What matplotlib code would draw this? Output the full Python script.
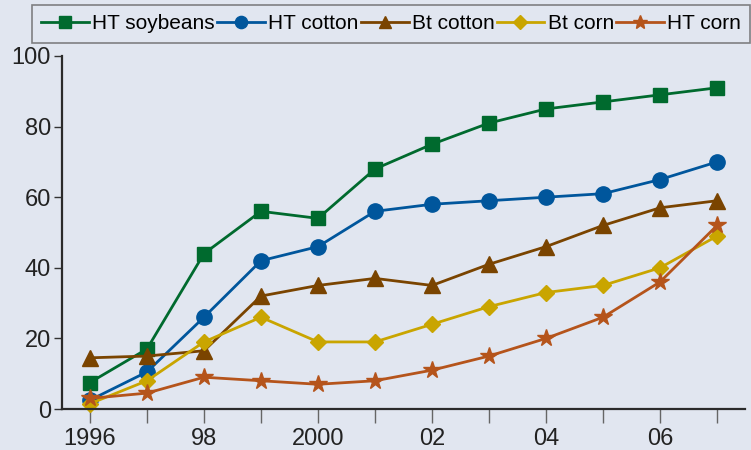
import matplotlib.pyplot as plt

# Adoption of genetically engineered crops, percent of acres
years = list(range(1996, 2008))
ht_soybeans = [7.5, 17, 44, 56, 54, 68, 75, 81, 85, 87, 89, 91]
ht_cotton = [2.5, 10.5, 26, 42, 46, 56, 58, 59, 60, 61, 65, 70]
bt_cotton = [14.5, 15, 16.5, 32, 35, 37, 35, 41, 46, 52, 57, 59]
bt_corn = [1.5, 8, 19, 26, 19, 19, 24, 29, 33, 35, 40, 49]
ht_corn = [3, 4.5, 9, 8, 7, 8, 11, 15, 20, 26, 36, 52]

tick_labels = ["1996", "", "98", "", "2000", "", "02", "", "04", "", "06", ""]
y_ticks = [0, 20, 40, 60, 80, 100]

plt.rcParams['font.family'] = ['Liberation Sans', 'DejaVu Sans']

bg = '#e1e6f0'
fig = plt.figure(figsize=(7.51, 4.5), dpi=100, facecolor=bg)
ax = fig.add_axes([62/751, 41/450, (745-62)/751, (409-56)/450])
ax.set_facecolor(bg)

series = [
    ("HT soybeans", ht_soybeans, '#006a2e', 's', 10),
    ("HT cotton", ht_cotton, '#00569c', 'o', 11),
    ("Bt cotton", bt_cotton, '#7a4400', '^', 11),
    ("Bt corn", bt_corn, '#c9a500', 'D', 8.5),
    ("HT corn", ht_corn, '#b5541b', '*', 13),
]
for name, vals, col, mk, ms in series:
    ax.plot(years, vals, color=col, marker=mk, markersize=ms, lw=2,
            label=name, clip_on=False)

ax.set_xlim(1995.51, 2007.49)
ax.set_ylim(0, 100)
ax.set_xticks(years)
ax.set_xticklabels(tick_labels)
ax.set_yticks(y_ticks)
for s in ['top', 'right']:
    ax.spines[s].set_visible(False)
for s in ['left', 'bottom']:
    ax.spines[s].set_color('#2b2b2b')
    ax.spines[s].set_linewidth(1.6)
ax.tick_params(axis='x', length=10, width=1, color='#666666', labelsize=17,
               pad=4, labelcolor='#222222')
ax.tick_params(axis='y', length=6, width=1, color='#333333', labelsize=17,
               pad=2, labelcolor='#222222')

leg = fig.legend(loc='upper left', bbox_to_anchor=(32/751, 1 - 5/450), ncol=5,
                 fontsize=15, frameon=True, fancybox=False, handlelength=2.3,
                 handletextpad=0.15, columnspacing=0.1, borderpad=0.45,
                 borderaxespad=0, markerscale=0.8)
leg.get_frame().set_facecolor(bg)
leg.get_frame().set_edgecolor('#666666')
leg.get_frame().set_linewidth(1.2)

fig.savefig('out.png', dpi=100, facecolor=bg)
